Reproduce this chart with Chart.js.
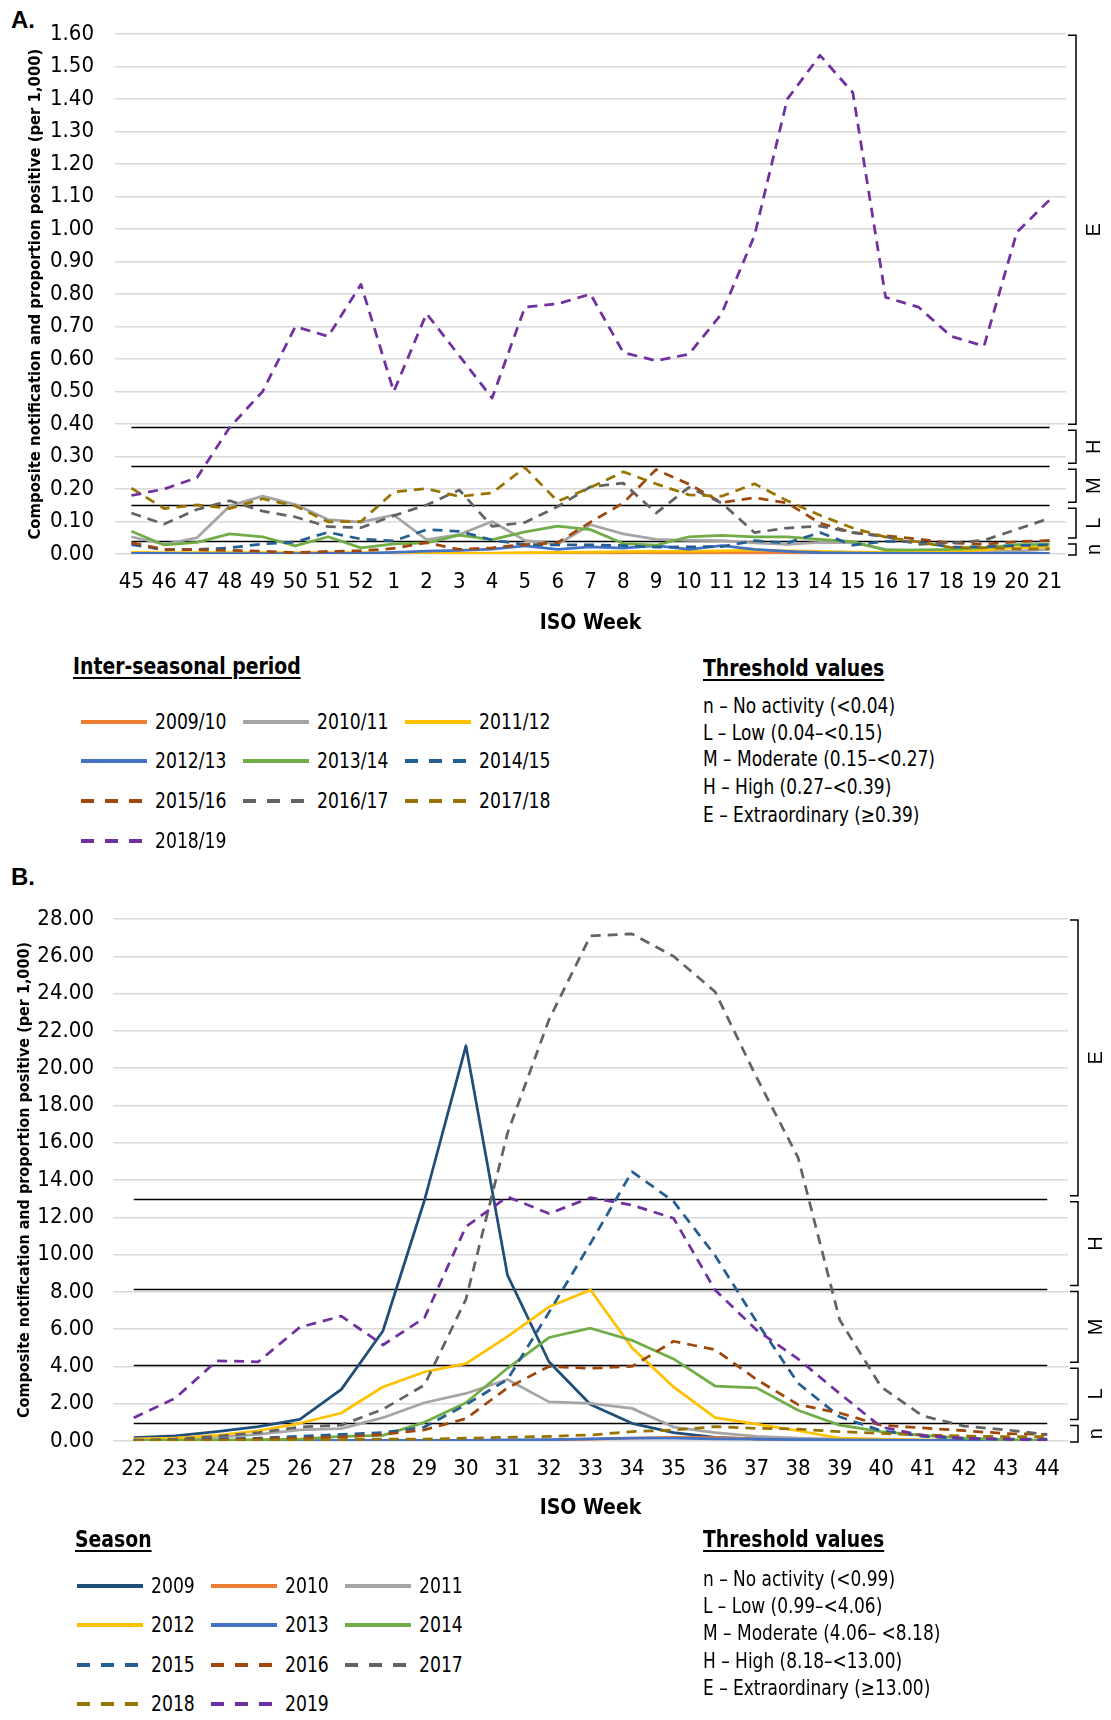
<!DOCTYPE html>
<html>
<head>
<meta charset="utf-8">
<script src="https://cdn.jsdelivr.net/npm/chart.js@4.4.1/dist/chart.umd.min.js"></script>
<style>
  html, body { margin: 0; padding: 0; background: #fff; }
  body { width: 1111px; height: 1720px; position: relative; overflow: hidden; color: #000;
         font-family: "Liberation Sans Narrow", "Arial Narrow", "DejaVu Sans Condensed", sans-serif; }
  .wrap { position: absolute; left: 0; width: 1111px; }
  #wrapA { top: 0; height: 640px; }
  #wrapB { top: 850px; height: 680px; }
  .tag { position: absolute; font-family: "Liberation Sans", Arial, sans-serif; font-weight: bold; font-size: 24px; line-height: 28px; }
  .ltitle { position: absolute; font-weight: bold; font-size: 23px; line-height: 28px; text-decoration: underline; text-underline-offset: 3px;
            transform: scaleX(0.91); transform-origin: 0 50%; white-space: nowrap; }
  .item { position: absolute; height: 28px; display: flex; align-items: center; font-size: 22px; line-height: 28px; white-space: nowrap; }
  .item svg { margin-right: 8px; }
  .item span { display: inline-block; transform: scaleX(0.87); transform-origin: 0 50%; }
  .thr { position: absolute; font-size: 21px; line-height: 26px; white-space: nowrap; transform: scaleX(0.9); transform-origin: 0 50%; }
</style>
</head>
<body>
<div class="tag" style="left:11px;top:6px;">A.</div>
<div class="wrap" id="wrapA"><canvas id="chartA" width="1111" height="640"></canvas></div>
<div class="tag" style="left:11px;top:863px;">B.</div>
<div class="wrap" id="wrapB"><canvas id="chartB" width="1111" height="680"></canvas></div>
<div id="legends"></div>
<script>
// ---------- Panel A: inter-seasonal period ----------
const weeksA = ['45','46','47','48','49','50','51','52','1','2','3','4','5','6','7','8','9','10','11','12','13','14','15','16','17','18','19','20','21'];
const seasonsA = ['2009/10','2010/11','2011/12','2012/13','2013/14','2014/15','2015/16','2016/17','2017/18','2018/19'];
const a2009_10 = [0.002,0.002,0.002,0.002,0.002,0.002,0.002,0.002,0.002,0.002,0.002,0.002,0.002,0.002,0.002,0.002,0.003,0.003,0.004,0.004,0.004,0.004,0.003,0.003,0.002,0.002,0.002,0.002,0.002];
const a2010_11 = [0.053,0.030,0.050,0.148,0.178,0.152,0.106,0.098,0.120,0.044,0.060,0.100,0.042,0.030,0.090,0.062,0.045,0.042,0.041,0.034,0.030,0.036,0.035,0.014,0.009,0.009,0.008,0.009,0.014];
const a2011_12 = [0.005,0.004,0.004,0.004,0.004,0.004,0.004,0.004,0.003,0.003,0.003,0.003,0.004,0.005,0.006,0.007,0.008,0.008,0.010,0.012,0.010,0.008,0.006,0.005,0.005,0.008,0.012,0.020,0.022];
const a2012_13 = [0.002,0.002,0.001,0.001,0.001,0.001,0.002,0.002,0.005,0.009,0.011,0.015,0.025,0.014,0.022,0.018,0.026,0.014,0.026,0.014,0.008,0.004,0.003,0.002,0.002,0.002,0.002,0.002,0.002];
const a2013_14 = [0.070,0.028,0.036,0.062,0.053,0.025,0.053,0.019,0.031,0.034,0.058,0.044,0.068,0.086,0.075,0.032,0.027,0.053,0.057,0.053,0.053,0.045,0.038,0.012,0.013,0.014,0.019,0.029,0.030];
const a2014_15 = [0.029,0.013,0.014,0.019,0.031,0.037,0.067,0.046,0.040,0.075,0.070,0.043,0.029,0.028,0.028,0.026,0.021,0.022,0.023,0.041,0.034,0.066,0.027,0.039,0.037,0.021,0.022,0.026,0.028];
const a2015_16 = [0.035,0.014,0.013,0.011,0.009,0.004,0.008,0.010,0.017,0.035,0.014,0.019,0.029,0.035,0.098,0.157,0.260,0.215,0.158,0.173,0.157,0.095,0.066,0.056,0.046,0.034,0.030,0.038,0.042];
const a2016_17 = [0.126,0.092,0.137,0.164,0.132,0.114,0.084,0.081,0.118,0.151,0.197,0.085,0.097,0.146,0.207,0.218,0.126,0.205,0.157,0.066,0.080,0.086,0.066,0.053,0.030,0.034,0.042,0.076,0.110];
const a2017_18 = [0.203,0.140,0.151,0.140,0.170,0.148,0.099,0.100,0.191,0.201,0.177,0.188,0.266,0.162,0.205,0.253,0.216,0.182,0.178,0.216,0.164,0.119,0.080,0.052,0.037,0.020,0.020,0.016,0.016];
const a2018_19 = [0.18,0.20,0.235,0.39,0.50,0.70,0.67,0.83,0.50,0.74,0.61,0.48,0.76,0.77,0.80,0.62,0.595,0.615,0.74,0.98,1.40,1.535,1.42,0.79,0.76,0.67,0.64,0.99,1.09];
const thresholdsA = [0.04, 0.15, 0.27, 0.39];
const thresholdTextA = ['n \u2013 No activity (<0.04)', 'L \u2013 Low (0.04\u2013<0.15)', 'M \u2013 Moderate (0.15\u2013<0.27)', 'H \u2013 High (0.27\u2013<0.39)', 'E \u2013 Extraordinary (\u22650.39)'];

// ---------- Panel B: season ----------
const weeksB = ['22','23','24','25','26','27','28','29','30','31','32','33','34','35','36','37','38','39','40','41','42','43','44'];
const seasonsB = ['2009','2010','2011','2012','2013','2014','2015','2016','2017','2018','2019'];
const b2009 = [0.18,0.27,0.50,0.77,1.16,2.77,5.90,12.90,21.20,8.90,4.25,1.96,0.95,0.45,0.20,0.12,0.10,0.05,0.05,0.04,0.03,0.03,0.03];
const b2010 = [0.02,0.02,0.02,0.02,0.02,0.02,0.02,0.02,0.02,0.03,0.05,0.10,0.15,0.20,0.18,0.12,0.08,0.05,0.03,0.02,0.02,0.02,0.02];
const b2011 = [0.10,0.15,0.20,0.35,0.60,0.66,1.25,2.05,2.55,3.30,2.10,2.02,1.75,0.75,0.45,0.25,0.15,0.10,0.06,0.05,0.04,0.04,0.04];
const b2012 = [0.10,0.15,0.30,0.55,0.95,1.50,2.90,3.70,4.15,5.60,7.20,8.10,5.00,2.90,1.25,0.90,0.55,0.15,0.10,0.06,0.05,0.04,0.04];
const b2013 = [0.02,0.02,0.02,0.02,0.02,0.03,0.03,0.03,0.04,0.06,0.08,0.12,0.15,0.15,0.12,0.10,0.08,0.06,0.05,0.04,0.03,0.03,0.03];
const b2014 = [0.02,0.03,0.05,0.08,0.10,0.25,0.30,1.00,2.05,3.90,5.55,6.05,5.40,4.40,2.95,2.85,1.65,0.85,0.50,0.30,0.15,0.08,0.05];
const b2015 = [0.05,0.05,0.10,0.15,0.25,0.35,0.45,0.75,1.95,3.30,6.90,10.60,14.45,12.85,9.95,6.40,3.10,1.30,0.55,0.25,0.12,0.10,0.10];
const b2016 = [0.02,0.03,0.05,0.10,0.15,0.22,0.35,0.60,1.20,2.85,4.00,3.90,4.00,5.35,4.90,3.30,1.95,1.50,0.85,0.70,0.55,0.40,0.35];
const b2017 = [0.02,0.10,0.25,0.45,0.75,0.85,1.70,3.00,7.60,16.50,22.60,27.10,27.20,26.00,24.10,19.50,15.20,6.50,2.90,1.35,0.80,0.60,0.35];
const b2018 = [0.00,0.02,0.03,0.05,0.06,0.08,0.10,0.10,0.15,0.20,0.25,0.32,0.50,0.59,0.77,0.68,0.64,0.50,0.41,0.32,0.27,0.23,0.23];
const b2019 = [1.25,2.30,4.30,4.25,6.10,6.70,5.15,6.60,11.50,13.10,12.20,13.05,12.65,11.95,8.10,5.95,4.40,2.55,0.75,0.30,0.15,0.10,0.05];
const thresholdsB = [0.99, 4.06, 8.18, 13.00];
const thresholdTextB = ['n \u2013 No activity (<0.99)', 'L \u2013 Low (0.99\u2013<4.06)', 'M \u2013 Moderate (4.06\u2013 <8.18)', 'H \u2013 High (8.18\u2013<13.00)', 'E \u2013 Extraordinary (\u226513.00)'];

const levelLetters = ['n', 'L', 'M', 'H', 'E'];

// Series styling (Office palette)
const stylesA = [
  { color: '#ED7D31', dash: false }, { color: '#A5A5A5', dash: false }, { color: '#FFC000', dash: false },
  { color: '#4472C4', dash: false }, { color: '#70AD47', dash: false }, { color: '#255E91', dash: true },
  { color: '#9E480E', dash: true },  { color: '#636363', dash: true },  { color: '#997300', dash: true },
  { color: '#7030A0', dash: true }
];
const stylesB = [{ color: '#1F4E79', dash: false }].concat(stylesA);

const FONT_N = '"Liberation Sans Narrow", "Arial Narrow", "DejaVu Sans Condensed", sans-serif';
Chart.defaults.font.family = FONT_N;
Chart.defaults.color = '#000';

// Threshold lines (under the series) and the n/L/M/H/E brackets on the right
const levelsPlugin = {
  id: 'levels',
  beforeDatasetsDraw(chart, args, o) {
    const { ctx, scales: { x, y } } = chart;
    const x0 = x.getPixelForValue(0), x1 = x.getPixelForValue(x.max);
    ctx.save();
    ctx.strokeStyle = '#000';
    ctx.lineWidth = 1.5;
    o.cuts.forEach(v => {
      const py = Math.round(y.getPixelForValue(v)) + 0.5;
      ctx.beginPath(); ctx.moveTo(x0, py); ctx.lineTo(x1, py); ctx.stroke();
    });
    ctx.restore();
  },
  afterDraw(chart, args, o) {
    const { ctx, chartArea, scales: { y } } = chart;
    const bounds = [y.min].concat(o.cuts, [y.max]);
    const xv = chartArea.right + 10;
    ctx.save();
    ctx.strokeStyle = '#000';
    ctx.lineWidth = 1.5;
    ctx.fillStyle = '#000';
    ctx.font = '20px "Liberation Sans", Arial, sans-serif';
    ctx.textAlign = 'center';
    ctx.textBaseline = 'middle';
    for (let i = 0; i < bounds.length - 1; i++) {
      const yb = y.getPixelForValue(bounds[i]) - (i === 0 ? -1 : 3);
      const yt = y.getPixelForValue(bounds[i + 1]) + (i === bounds.length - 2 ? 1 : 3);
      ctx.beginPath();
      ctx.moveTo(xv - 8, yt); ctx.lineTo(xv, yt); ctx.lineTo(xv, yb); ctx.lineTo(xv - 8, yb);
      ctx.stroke();
      ctx.save();
      ctx.translate(xv + 18, (yt + yb) / 2);
      ctx.rotate(-Math.PI / 2);
      ctx.fillText(o.letters[i], 0, 0);
      ctx.restore();
    }
    ctx.restore();
  }
};

function makeChart(id, labels, names, series, styles, cfg) {
  const datasets = series.map((d, i) => ({
    label: names[i],
    data: d,
    borderColor: styles[i].color,
    backgroundColor: styles[i].color,
    borderWidth: 2.75,
    borderDash: styles[i].dash ? [10, 7] : [],
    borderCapStyle: 'butt',
    borderJoinStyle: 'round',
    pointRadius: 0,
    tension: 0,
    fill: false,
    order: series.length - i
  }));
  return new Chart(document.getElementById(id), {
    type: 'line',
    data: { labels, datasets },
    plugins: [levelsPlugin],
    options: {
      responsive: false,
      animation: false,
      events: [],
      layout: { padding: { left: 0, right: cfg.padRight, top: cfg.padTop, bottom: 0 } },
      plugins: {
        legend: { display: false },
        tooltip: { enabled: false },
        levels: { cuts: cfg.cuts, letters: levelLetters }
      },
      scales: {
        x: {
          type: 'category',
          offset: true,
          grid: { display: false, drawTicks: false },
          border: { display: false },
          ticks: { autoSkip: false, maxRotation: 0, minRotation: 0, padding: cfg.xTickPad, font: { size: 22 } },
          title: { display: true, text: 'ISO Week', font: { size: 21, weight: 'bold' }, padding: { top: 0, bottom: cfg.xTitlePad } },
          afterFit: s => { s.height = cfg.xHeight; }
        },
        y: {
          min: 0, max: cfg.yMax,
          grid: { color: '#D9D9D9', lineWidth: 1.5, drawTicks: false },
          border: { display: false },
          ticks: { stepSize: cfg.yStep, maxTicksLimit: 40, padding: cfg.yTickPad, font: { size: 22 },
                   callback: v => Number(v).toFixed(2) },
          title: { display: true, text: 'Composite notification and proportion positive (per 1,000)',
                   font: { size: cfg.yTitleSize, weight: 'bold' }, padding: { top: cfg.yTitlePad, bottom: 0 } },
          afterFit: s => { s.width = cfg.yWidth; }
        }
      }
    }
  });
}

makeChart('chartA', weeksA, seasonsA,
  [a2009_10, a2010_11, a2011_12, a2012_13, a2013_14, a2014_15, a2015_16, a2016_17, a2017_18, a2018_19],
  stylesA,
  { padRight: 45, padTop: 27, xHeight: 86, xTickPad: 15, xTitlePad: 4, yMax: 1.6, yStep: 0.1,
    yTickPad: 21, yTitleSize: 16.5, yTitlePad: 26, yWidth: 115, cuts: thresholdsA });

makeChart('chartB', weeksB, seasonsB,
  [b2009, b2010, b2011, b2012, b2013, b2014, b2015, b2016, b2017, b2018, b2019],
  stylesB,
  { padRight: 43, padTop: 69, xHeight: 89, xTickPad: 15, xTitlePad: 9, yMax: 28, yStep: 2,
    yTickPad: 19, yTitleSize: 16, yTitlePad: 15, yWidth: 113, cuts: thresholdsB });

// ---------- HTML legends ----------
const host = document.getElementById('legends');
function sample(style) {
  const w = 66;
  const dash = style.dash ? 'stroke-dasharray="13 11"' : '';
  return `<svg width="${w}" height="6" viewBox="0 0 ${w} 6"><line x1="0" y1="3" x2="${w}" y2="3" stroke="${style.color}" stroke-width="4" ${dash}/></svg>`;
}
function addDiv(cls, left, top, html) {
  const d = document.createElement('div');
  d.className = cls;
  d.style.left = left + 'px';
  d.style.top = top + 'px';
  d.innerHTML = html;
  host.appendChild(d);
}
function buildLegend(title, titlePos, names, styles, cols, rows, thrTitleTop, thrRows, thrText) {
  addDiv('ltitle', titlePos[0], titlePos[1], title);
  names.forEach((n, i) => {
    addDiv('item', cols[i % 3], rows[Math.floor(i / 3)] - 14, sample(styles[i]) + '<span>' + n + '</span>');
  });
  addDiv('ltitle', 703, thrTitleTop, 'Threshold values');
  thrText.forEach((t, i) => addDiv('thr', 703, thrRows[i] - 13, t));
}
buildLegend('Inter-seasonal period', [73, 652], seasonsA, stylesA, [81, 243, 405], [722, 761, 801, 841],
  654, [706, 733, 759, 787, 815], thresholdTextA);
buildLegend('Season', [75, 1525], seasonsB, stylesB, [77, 211, 345], [1586, 1625, 1665, 1704],
  1525, [1579, 1606, 1633, 1661, 1688], thresholdTextB);
</script>
</body>
</html>
